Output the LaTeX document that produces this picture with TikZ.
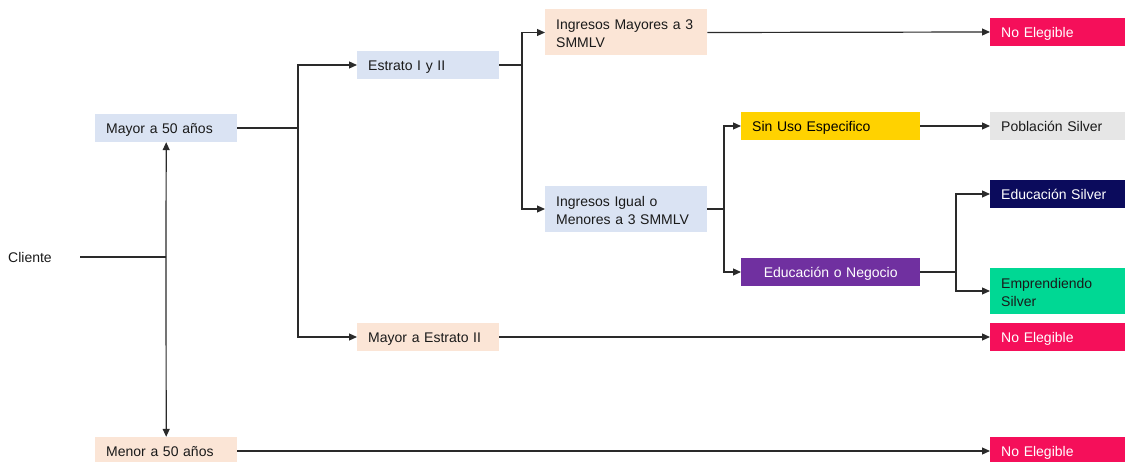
\documentclass[tikz,border=0pt]{standalone}
\usepackage{fontspec}
\setmainfont{Liberation Sans}
\usetikzlibrary{arrows.meta}
\definecolor{lblue}{HTML}{DAE3F3}
\definecolor{peach}{HTML}{FBE5D6}
\definecolor{yel}{HTML}{FFD200}
\definecolor{lgrey}{HTML}{E6E6E6}
\definecolor{navy}{HTML}{0B0B5C}
\definecolor{purp}{HTML}{7030A0}
\definecolor{grn}{HTML}{00D894}
\definecolor{pink}{HTML}{F50F5A}
\definecolor{txt}{HTML}{1A1A1A}
\definecolor{ln}{HTML}{2A2A2A}
\tikzset{
  box/.style={draw=none, rectangle, anchor=west, inner xsep=11pt, inner ysep=0pt,
    align=left, text=txt, font=\fontsize{14}{18}\selectfont},
  w142/.style={text width=120pt},
  w162/.style={text width=140pt},
  w179/.style={text width=157pt},
  w140/.style={text width=118pt},
  h28/.style={minimum height=28pt, text height=13pt, text depth=2pt},
  h46/.style={minimum height=46pt, text height=13pt, text depth=18pt},
  conn/.style={draw=ln, line width=1.2pt},
  arr/.style={conn, -{Triangle[length=8pt,width=7pt]}}
}
\begin{document}
\begin{tikzpicture}[x=1pt,y=-1pt]
\useasboundingbox (0,0) rectangle (1125,462);
% nodes
\node[box, text width=72pt, inner xsep=0pt] (cliente) at (8,257) {Cliente};
\node[box, w142, h28, fill=lblue] (mayor50) at (95,128) {Mayor a 50 años};
\node[box, w142, h28, fill=peach] (menor50) at (95,451) {Menor a 50 años};
\node[box, w142, h28, fill=lblue] (estrato) at (357,65) {Estrato I y II};
\node[box, w142, h28, fill=peach] (mayorestr) at (357,337) {Mayor a Estrato II};
\node[box, w162, h46, fill=peach] (ingmay) at (545,32.5) {Ingresos Mayores a 3\\SMMLV};
\node[box, w162, h46, fill=lblue] (ingig) at (545,209) {Ingresos Igual o\\Menores a 3 SMMLV};
\node[box, w179, h28, fill=yel, text=black] (sinuso) at (741,126) {Sin Uso Especifico};
\node[box, w179, h28, fill=purp, text=white, align=center] (edu) at (741,272) {Educación o Negocio};
\node[box, w140, h28, fill=pink, text=white] (ne1) at (990,32) {No Elegible};
\node[box, w140, h28, fill=lgrey] (pob) at (990,126) {Población Silver};
\node[box, w140, h28, fill=navy, text=white] (edus) at (990,194) {Educación Silver};
\node[box, w140, h46, fill=grn] (emp) at (990,291) {Emprendiendo\\Silver};
\node[box, w140, h28, fill=pink, text=white] (ne2) at (990,337) {No Elegible};
\node[box, w140, h28, fill=pink, text=white] (ne3) at (990,451) {No Elegible};
% junctions
\coordinate (j1) at (166,257);
\coordinate (j2) at (298,128);
\coordinate (j3) at (522,65);
\coordinate (j4) at (724,209);
\coordinate (j5) at (956,272);
% connectors
\draw[conn] (cliente.east) -- (j1);
\draw[arr] (j1) -- (mayor50.south);
\draw[arr] (j1) -- (menor50.north);
\draw[conn] (mayor50.east) -- (j2);
\draw[arr] (j2) |- (estrato.west);
\draw[arr] (j2) |- (mayorestr.west);
\draw[conn] (estrato.east) -- (j3);
\draw[arr] (j3) |- (ingmay.west);
\draw[arr] (j3) |- (ingig.west);
\draw[conn] (ingig.east) -- (j4);
\draw[arr] (j4) |- (sinuso.west);
\draw[arr] (j4) |- (edu.west);
\draw[conn] (edu.east) -- (j5);
\draw[arr] (j5) |- (edus.west);
\draw[arr] (j5) |- (emp.west);
\draw[arr] (ingmay.east) -- (ne1.west);
\draw[arr] (sinuso.east) -- (pob.west);
\draw[arr] (mayorestr.east) -- (ne2.west);
\draw[arr] (menor50.east) -- (ne3.west);
\end{tikzpicture}
\end{document}
